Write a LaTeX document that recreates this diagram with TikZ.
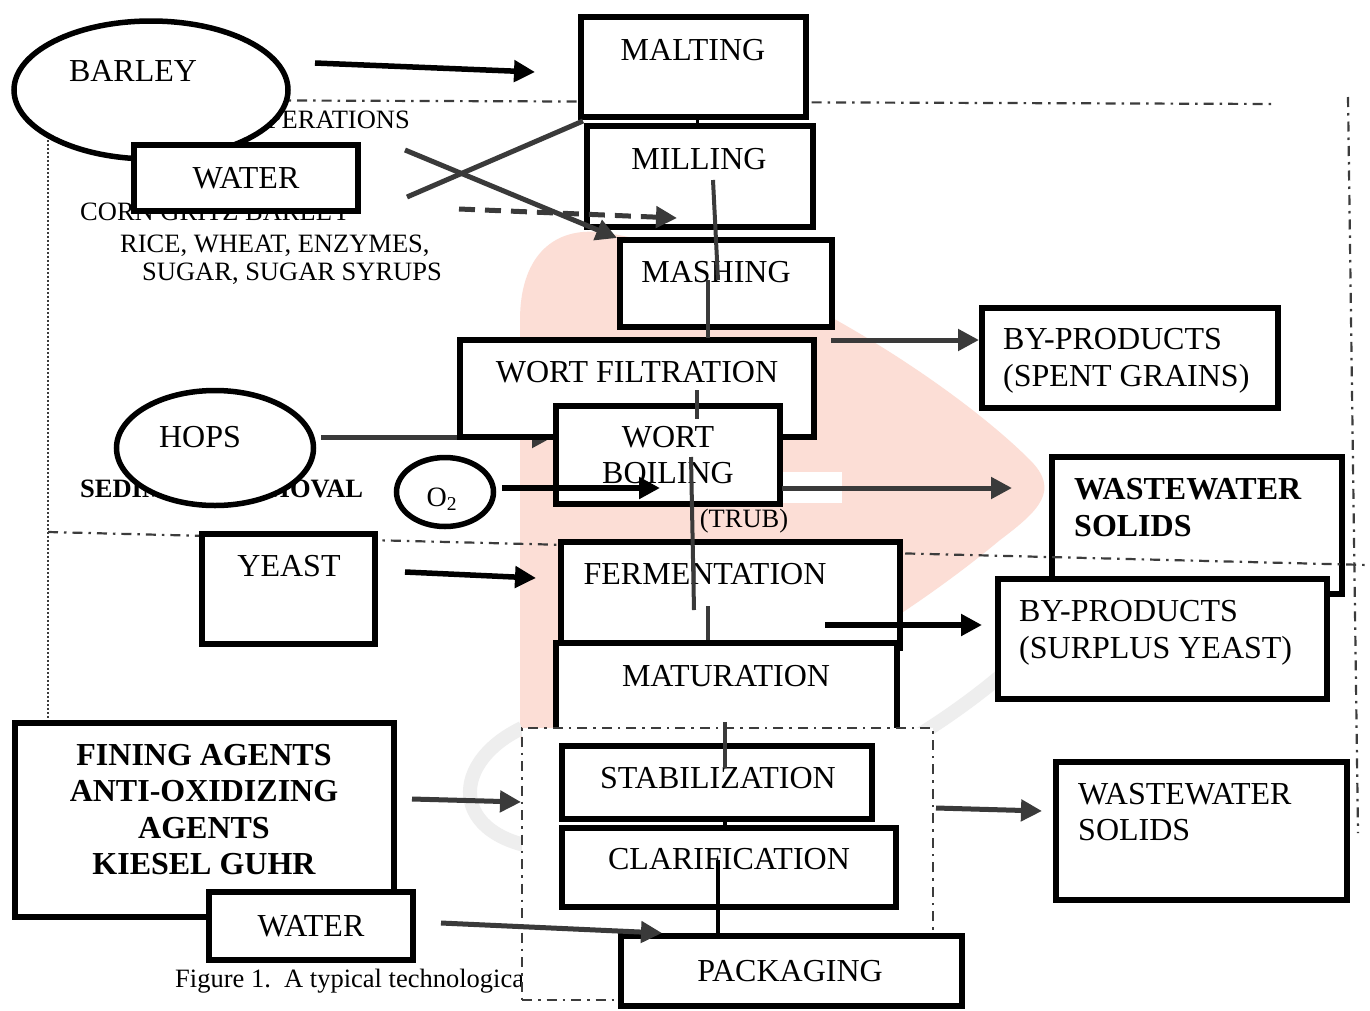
\documentclass[tikz,border=0pt]{standalone}
\usepackage{fontspec}
\setmainfont{Liberation Serif}
\usetikzlibrary{shapes.geometric,arrows.meta}
\definecolor{ink}{RGB}{58,58,58}
\definecolor{zoneline}{RGB}{60,60,60}
\definecolor{wmpink}{RGB}{252,222,214}

\begin{document}
\begin{tikzpicture}[x=1pt, y=-1pt,
    box/.style={draw, rectangle, line width=6pt, fill=white, inner sep=0pt},
    oval/.style={draw, ellipse, line width=5.5pt, fill=white, inner sep=0pt},
    txt/.style={font=\fontsize{32}{36}\selectfont, inner sep=0pt, anchor=base},
    bld/.style={font=\fontsize{32}{36}\selectfont\bfseries, inner sep=0pt, anchor=base},
    sml/.style={font=\fontsize{26.5}{30}\selectfont, inner sep=0pt, anchor=base west},
    flow/.style={draw=ink, line width=5pt},
    feed/.style={draw=black, line width=5.5pt},
    zone/.style={draw=zoneline, line width=2.2pt, dash pattern=on 10pt off 6pt on 2.5pt off 6pt},
    dotline/.style={draw=zoneline, line width=2.5pt, dash pattern=on 2pt off 2pt},
    swoosh/.style={draw=gray!13, line width=14pt},
    >={Triangle[length=21pt,width=21pt]}]
    \fill[white] (0,0) rectangle (1370,1010);
    \useasboundingbox (0,0) rectangle (1370,1010);

    % watermark
    \fill[fill=wmpink] (598,232) .. controls (750,250) and (950,380) .. (1030,460)
        .. controls (1060,490) and (1040,510) .. (1000,540)
        .. controls (880,640) and (700,740) .. (560,770)
        .. controls (525,775) and (520,760) .. (520,720) -- (520,320)
        .. controls (520,260) and (550,228) .. (598,232) -- cycle;
    \draw[swoosh] (522,728) .. controls (445,765) and (450,845) .. (560,850)
        .. controls (720,850) and (920,760) .. (1040,640);
    \fill[white] (782,472) rectangle (842,503);

    % zones
    \draw[zone] (150,100) -- (1276,104);
    \draw[zone] (1348,97) -- (1358,833);
    \draw[dotline] (48,140) -- (48,722);

    % words lying under the shapes
    \node[sml, anchor=base east] (opsT) at (410,128) {OPERATIONS};
    \node[sml] (cornT) at (80,220) {CORN GRITZ BARLEY};
    \node[sml] (riceT) at (120,252) {RICE, WHEAT, ENZYMES,};
    \node[sml] (sugarT) at (142,280) {SUGAR, SUGAR SYRUPS};
    \node[sml, font=\fontsize{26.5}{30}\selectfont\bfseries] (sedT) at (80,497) {SEDIMENT REMOVAL};

    % raw materials
    \node[oval, minimum width=274pt, minimum height=138pt] (barley) at (151,90) {};
    \node[txt] (barleyT) at (133,81) {BARLEY};
    \node[box, minimum width=224pt, minimum height=66pt, font=\fontsize{32}{36}\selectfont] (water1) at (246,178) {WATER};
    \node[oval, minimum width=197pt, minimum height=115pt] (hops) at (215,448) {};
    \node[txt] (hopsT) at (200,447) {HOPS};
    \node[oval, minimum width=97pt, minimum height=69pt] (o2) at (445,492) {};
    \node[txt, font=\fontsize{28}{32}\selectfont] (o2T) at (442,506) {O\textsubscript{2}};

    % free ends of the connectors
    \coordinate (barleyOut) at (315,63);
    \coordinate (maltIn) at (535,72);
    \coordinate (waterA) at (405,150);
    \coordinate (mashIn) at (617,238);
    \coordinate (waterB) at (407,197);
    \coordinate (maltFoot) at (583,121);
    \coordinate (addOut) at (459,209);
    \coordinate (millIn) at (677,218);
    \coordinate (hopsOut) at (321,437);
    \coordinate (hopsIn) at (553,437);

    % hops go in under the filtration box
    \draw[flow,->] (hopsOut) -- (hopsIn);

    % process line
    \node[box, minimum width=225pt, minimum height=100pt] (malt) at (693.5,67) {};
    \node[txt] (maltT) at (693,60) {MALTING};
    \node[box, minimum width=226pt, minimum height=101pt] (mill) at (700,176.5) {};
    \node[txt] (millT) at (699,169) {MILLING};
    \node[box, minimum width=212pt, minimum height=87pt] (mash) at (726,283.5) {};
    \node[txt] (mashT) at (716,282) {MASHING};
    \node[box, minimum width=354pt, minimum height=97pt] (filt) at (637,388.5) {};
    \node[txt] (filtT) at (637,382) {WORT FILTRATION};
    \node[box, minimum width=224pt, minimum height=98pt, align=center, font=\fontsize{32}{36}\selectfont] (boil) at (668,455) {WORT\\BOILING};

    % by-products and wastewater
    \node[box, minimum width=296pt, minimum height=100pt] (spent) at (1130,358) {};
    \node[txt, anchor=base west] (spentT1) at (1003,349) {BY-PRODUCTS};
    \node[txt, anchor=base west] (spentT2) at (1003,386) {(SPENT GRAINS)};
    \node[box, minimum width=290pt, minimum height=137pt] (wwa) at (1197,525.5) {};
    \node[bld, anchor=base west] (wwaT1) at (1074,499) {WASTEWATER};
    \node[bld, anchor=base west] (wwaT2) at (1074,536) {SOLIDS};
    \node[sml, anchor=base] (trubT) at (744,527) {(TRUB)};

    \draw[zone] (48,532) -- (1368,565);

    \node[box, minimum width=173pt, minimum height=110pt] (yeast) at (288.5,589) {};
    \node[txt] (yeastT) at (289,576) {YEAST};
    \node[box, minimum width=339pt, minimum height=106pt] (ferm) at (730.5,595) {};
    \node[txt] (fermT) at (705,584) {FERMENTATION};
    \node[box, minimum width=329pt, minimum height=120pt] (surp) at (1162.5,639) {};
    \node[txt, anchor=base west] (surpT1) at (1019,621) {BY-PRODUCTS};
    \node[txt, anchor=base west] (surpT2) at (1019,658) {(SURPLUS YEAST)};
    \node[box, minimum width=341pt, minimum height=127pt] (matur) at (726.5,706.5) {};
    \node[txt] (maturT) at (726,686) {MATURATION};

    % caption, partly under the frame
    \node[sml] (capT) at (175,987) {Figure 1.\ \ A typical technological};

    % finishing stages
    \node[zone, fill=white, minimum width=411pt, minimum height=272pt, inner sep=0pt] (finish) at (727.5,864) {};
    \node[box, minimum width=310pt, minimum height=73pt] (stab) at (717,782.5) {};
    \node[txt] (stabT) at (718,788) {STABILIZATION};
    \node[box, minimum width=334pt, minimum height=79pt] (clar) at (729,867.5) {};
    \node[txt] (clarT) at (729,869) {CLARIFICATION};
    \node[box, minimum width=341pt, minimum height=70pt] (pack) at (791.5,971) {};
    \node[txt] (packT) at (790,981) {PACKAGING};
    \node[box, minimum width=291pt, minimum height=138pt] (wwb) at (1201.5,831) {};
    \node[txt, anchor=base west] (wwbT1) at (1078,804) {WASTEWATER};
    \node[txt, anchor=base west] (wwbT2) at (1078,840) {SOLIDS};

    % additives
    \node[box, minimum width=379pt, minimum height=194pt] (fining) at (204.5,820) {};
    \node[bld] (finT1) at (204,765) {FINING AGENTS};
    \node[bld] (finT2) at (204,801) {ANTI-OXIDIZING};
    \node[bld] (finT3) at (204,838) {AGENTS};
    \node[bld] (finT4) at (204,874) {KIESEL GUHR};
    \node[box, minimum width=204pt, minimum height=68pt, font=\fontsize{32}{36}\selectfont] (water2) at (311,926) {WATER};

    % more free ends
    \coordinate (millOut) at (713,180);
    \coordinate (mashTop) at (718,280);
    \coordinate (mashOut) at (708,280);
    \coordinate (filtTop) at (708,338);
    \coordinate (filtOut) at (697,390);
    \coordinate (boilTop) at (697,419);
    \coordinate (boilOut) at (691,457);
    \coordinate (fermTop) at (694,610);
    \coordinate (fermOut) at (708,606);
    \coordinate (maturTop) at (708,640);
    \coordinate (maturOut) at (725,722);
    \coordinate (stabTop) at (725,768);
    \coordinate (stabOut) at (725,819);
    \coordinate (clarTop) at (725,828);
    \coordinate (clarOut) at (718,860);
    \coordinate (packTop) at (718,936);
    \coordinate (spentOut) at (831,340);
    \coordinate (spentIn) at (979,340);
    \coordinate (o2Out) at (502,488);
    \coordinate (o2In) at (660,488);
    \coordinate (trubOut) at (782,488);
    \coordinate (trubIn) at (1012,488);
    \coordinate (yeastOut) at (405,572);
    \coordinate (yeastIn) at (536,578);
    \coordinate (surpOut) at (825,625);
    \coordinate (surpIn) at (982,625);
    \coordinate (finOut) at (412,799);
    \coordinate (finIn) at (521,802);
    \coordinate (wasteOut) at (936,808);
    \coordinate (wasteIn) at (1042,811);
    \coordinate (water2Out) at (441,923);
    \coordinate (water2In) at (662,933);

    % arrows
    \draw[feed,->] (barleyOut) -- (maltIn);
    \draw[flow,->] (waterA) -- (mashIn);
    \draw[flow] (waterB) -- (maltFoot);
    \draw[flow,->,dash pattern=on 16pt off 10pt] (addOut) -- (millIn);
    \draw[feed, line width=3pt] (697,117) -- (697,126);
    \draw[flow, line width=4pt] (millOut) -- (mashTop);
    \draw[flow, line width=4pt] (mashOut) -- (filtTop);
    \draw[flow, line width=4pt] (filtOut) -- (boilTop);
    \draw[flow, line width=4pt] (boilOut) -- (fermTop);
    \draw[flow, line width=4pt] (fermOut) -- (maturTop);
    \draw[flow, line width=4pt] (maturOut) -- (stabTop);
    \draw[feed, line width=4pt] (stabOut) -- (clarTop);
    \draw[feed, line width=4pt] (clarOut) -- (packTop);
    \draw[flow,->] (spentOut) -- (spentIn);
    \draw[feed,->] (o2Out) -- (o2In);
    \draw[flow,->] (trubOut) -- (trubIn);
    \draw[feed,->] (yeastOut) -- (yeastIn);
    \draw[feed,->] (surpOut) -- (surpIn);
    \draw[flow,->] (finOut) -- (finIn);
    \draw[flow,->] (wasteOut) -- (wasteIn);
    \draw[flow,->] (water2Out) -- (water2In);
\end{tikzpicture}
\end{document}
